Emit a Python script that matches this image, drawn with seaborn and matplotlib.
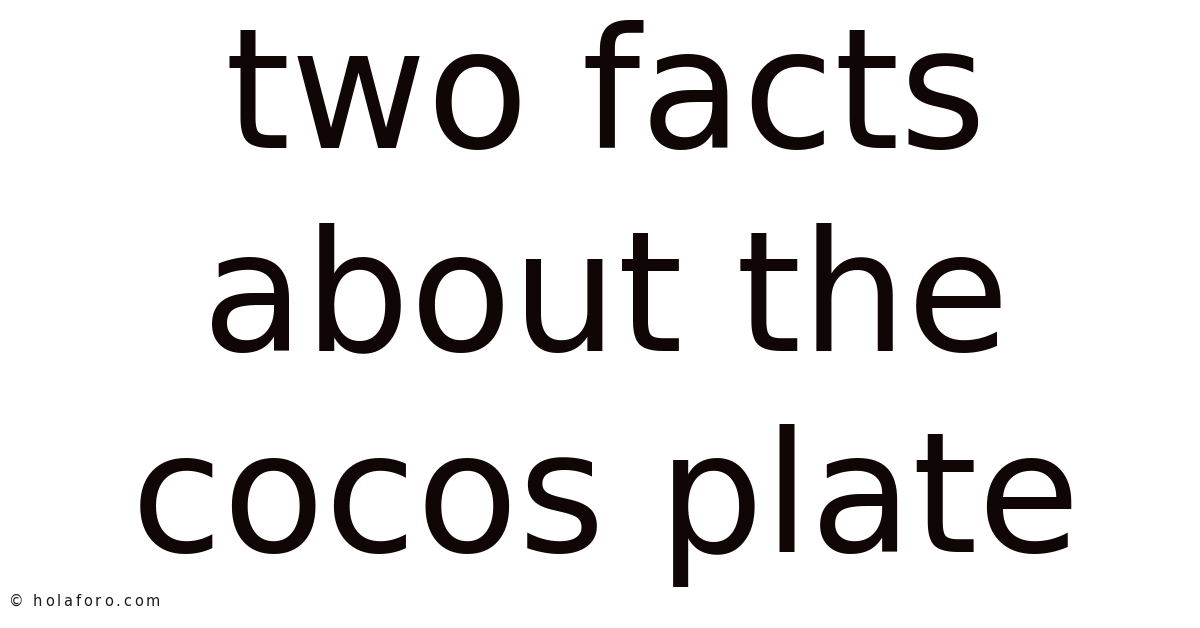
import matplotlib
matplotlib.use("Agg")
import matplotlib.pyplot as plt
import seaborn as sns

title_lines = ["two facts", "about the", "cocos plate"]
baselines_px = [148, 350, 552]
watermark = "© holaforo.com"

sns.set_theme(style="white")
plt.rcParams['font.family'] = ['DejaVu Sans']

W, H = 1200, 628
fig = plt.figure(figsize=(W / 100, H / 100), dpi=100)
fig.patch.set_facecolor("white")

for line, by in zip(title_lines, baselines_px):
    fig.text(606 / W, 1 - by / H, line, ha="center", va="baseline",
             fontsize=120, color="#100606")

# watermark with letter spacing
fig.canvas.draw()
renderer = fig.canvas.get_renderer()
x = 9.0
tracking = 2.8
for ch in watermark:
    t = fig.text(x / W, 1 - 606 / H, ch, ha="left", va="baseline",
                 fontsize=10.5, color="#1a1a1a")
    if ch == " ":
        w = 3.5
    else:
        w = t.get_window_extent(renderer).width
    x += w + tracking

fig.savefig("out.png", dpi=100, facecolor="white")
